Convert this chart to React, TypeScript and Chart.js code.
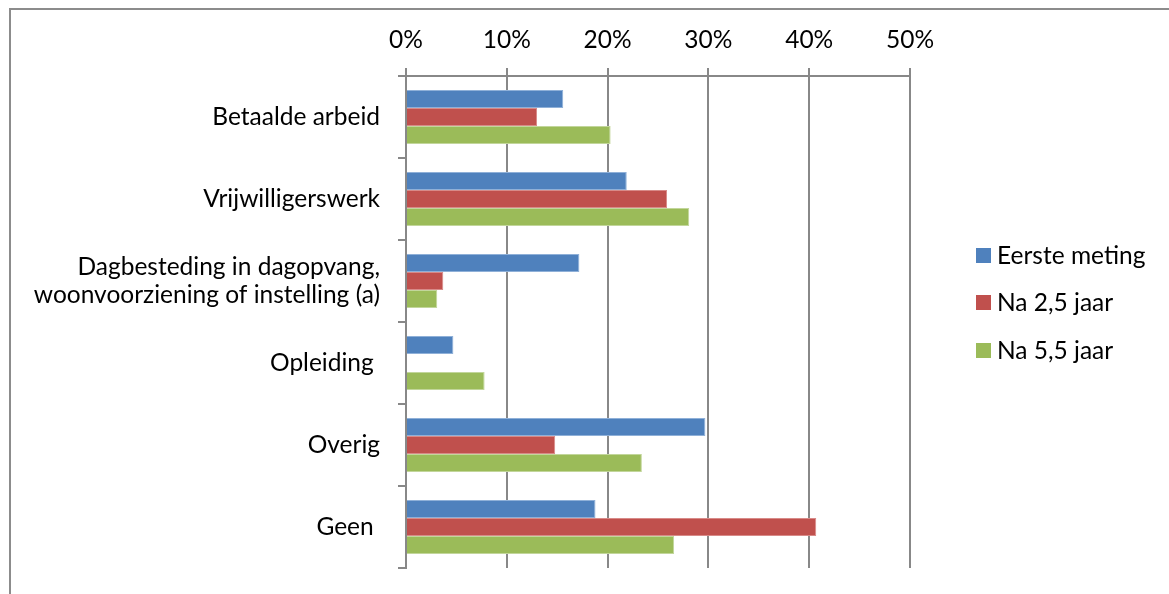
import React, { useEffect, useRef } from "react";
import { Chart, registerables } from "chart.js";

Chart.register(...registerables);

const categories: (string | string[])[] = [
  "Betaalde arbeid",
  "Vrijwilligerswerk",
  ["Dagbesteding in dagopvang,", "woonvoorziening of instelling (a)"],
  "Opleiding ",
  "Overig",
  "Geen ",
];
const seriesNames = ["Eerste meting", "Na 2,5 jaar", "Na 5,5 jaar"];
const eersteMeting = [15.6, 21.9, 17.2, 4.7, 29.7, 18.8];
const na25 = [13.0, 25.9, 3.7, 0, 14.8, 40.7];
const na55 = [20.3, 28.1, 3.1, 7.8, 23.4, 26.6];
const colors = ["#4F81BD", "#C0504D", "#9BBB59"];
const borderColors = ["#8fb0d8", "#d88a88", "#c2d69b"];

const FONT = "Lato, 'Open Sans', sans-serif";
const FS = 24.5;

const legendPlugin = {
  id: "customLegend",
  afterDraw(chart: any) {
    const ctx = chart.ctx;
    ctx.save();
    ctx.font = `${FS}px ${FONT}`;
    ctx.textBaseline = "middle";
    ctx.textAlign = "left";
    const ys = [255, 302, 350];
    chart.data.datasets.forEach((ds: any, i: number) => {
      ctx.fillStyle = ds.backgroundColor;
      ctx.fillRect(976, ys[i] - 7, 15, 15);
      ctx.fillStyle = "#000";
      ctx.fillText(ds.label, 997, ys[i] + 1);
    });
    ctx.restore();
  },
};

export default function App() {
  const ref = useRef<HTMLCanvasElement>(null);
  useEffect(() => {
    if (!ref.current) return;
    const data = [eersteMeting, na25, na55];
    const chart = new Chart(ref.current, {
      type: "bar",
      data: {
        labels: categories,
        datasets: seriesNames.map((name, i) => ({
          label: name,
          data: data[i],
          backgroundColor: colors[i],
          borderColor: borderColors[i],
          borderWidth: 1,
          barPercentage: 1,
          categoryPercentage: 0.66,
        })),
      },
      options: {
        indexAxis: "y",
        responsive: false,
        animation: false,
        layout: { padding: { left: 0, right: 259, top: 0, bottom: 26 } },
        plugins: { legend: { display: false }, tooltip: { enabled: false } },
        scales: {
          x: {
            position: "top",
            min: 0,
            max: 50,
            afterFit: (s: any) => {
              s.height = 76;
              s.paddingLeft = 0;
              s.paddingRight = 0;
            },
            ticks: {
              stepSize: 10,
              color: "#000",
              padding: 13,
              font: { family: FONT, size: FS },
              callback: (v: any) => v + "%",
            },
            grid: { color: "#888888", lineWidth: 2, tickLength: 8 },
            border: { color: "#888888", width: 2 },
          },
          y: {
            afterFit: (s: any) => {
              s.width = 406;
              s.paddingTop = 0;
              s.paddingBottom = 0;
            },
            ticks: {
              color: "#000",
              padding: 18,
              font: { family: FONT, size: FS, lineHeight: 1.15 },
            },
            grid: {
              drawOnChartArea: false,
              color: "#888888",
              lineWidth: 2,
              tickLength: 8,
              offset: true,
            },
            border: { color: "#888888", width: 2 },
          },
        },
      },
      plugins: [legendPlugin],
    });
    return () => chart.destroy();
  }, []);
  return (
    <div style={{ position: "fixed", left: 0, top: 0, width: 1169, height: 594, background: "#fff", overflow: "hidden" }}>
      <div
        style={{
          position: "absolute",
          left: 9,
          top: 8,
          width: 1300,
          height: 800,
          border: "2px solid #8c8c8c",
          boxSizing: "border-box",
        }}
      />
      <canvas ref={ref} width={1169} height={594} style={{ position: "absolute", left: 0, top: 0 }} />
    </div>
  );
}
